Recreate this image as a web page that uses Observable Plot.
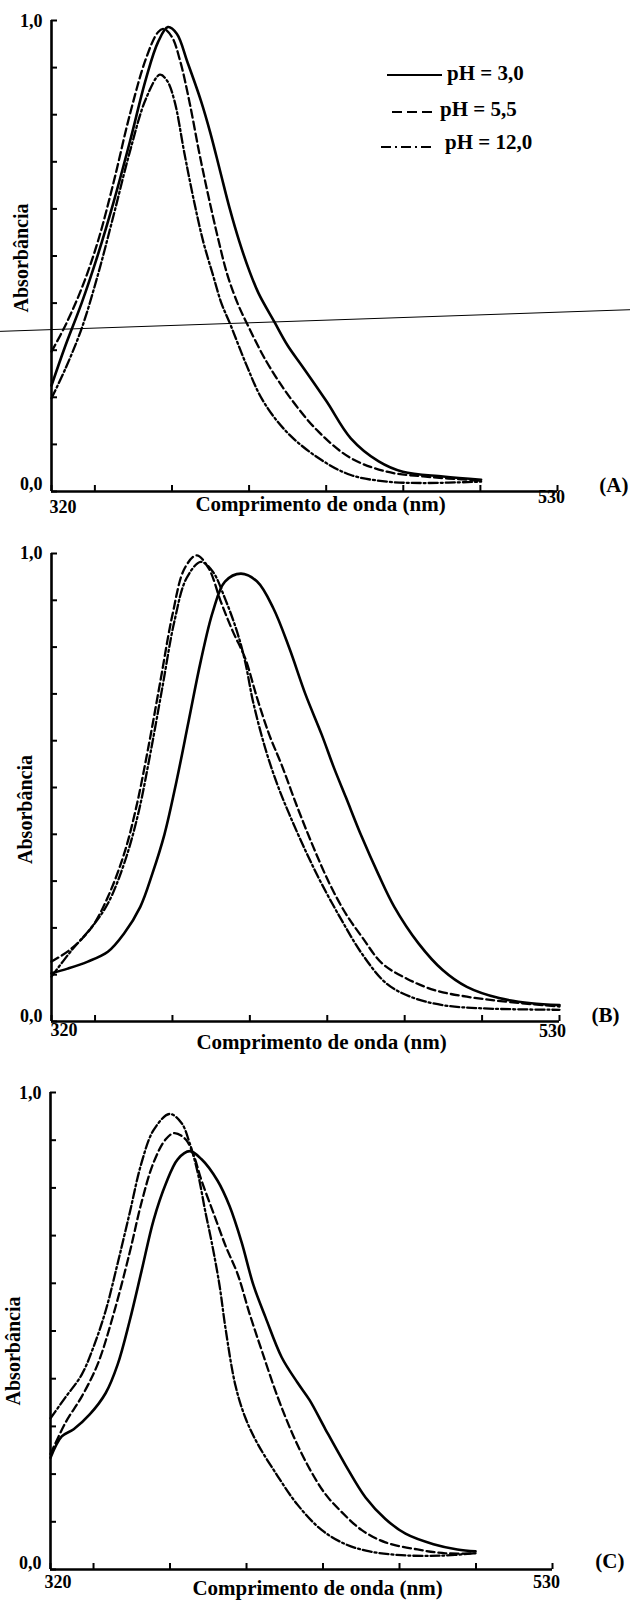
<!DOCTYPE html>
<html>
<head>
<meta charset="utf-8">
<script src="https://cdn.jsdelivr.net/npm/d3@7"></script>
<script src="https://cdn.jsdelivr.net/npm/@observablehq/plot@0.6"></script>
<style>
html, body { margin: 0; padding: 0; background: #fff; }
#page { position: relative; width: 630px; height: 1602px; overflow: hidden; background: #fff;
        font-family: "Liberation Serif", "Times New Roman", serif; }
.panel { position: absolute; left: 0; }
.panel svg { overflow: visible; }
#legend { position: absolute; left: 0; top: 0; pointer-events: none; }
</style>
</head>
<body>
<div id="page"></div>
<script>
// ---------- data ----------
const xDomain = [320, 530];
const xTickValues = [320, 338, 370, 402, 434, 466, 498, 530];
const xTickLabels = ["320", "530"];
const yTickValues = [0, 0.1, 0.2, 0.3, 0.4, 0.5, 0.6, 0.7, 0.8, 0.9, 1.0];
const yTickLabels = ["0,0", "1,0"];
const seriesNames = ["pH = 3,0", "pH = 5,5", "pH = 12,0"];
const panelTags = ["(A)", "(B)", "(C)"];
const xTitle = "Comprimento de onda (nm)";
const yTitle = "Absorbância";

// Panel A  [wavelength nm, absorbance]
const A_pH3 = [[320,0.225],[325.8,0.31],[332.5,0.40],[339.2,0.502],[345.8,0.615],[352.5,0.742],[359.2,0.876],[364.2,0.954],[368.3,0.986],[372,0.972],[376.4,0.912],[382,0.83],[386,0.76],[390,0.68],[394,0.60],[398,0.53],[402,0.47],[406,0.42],[412.5,0.36],[418,0.31],[424.2,0.265],[434.2,0.191],[444.2,0.113],[455.8,0.064],[465.8,0.042],[482.5,0.032],[498.3,0.025]];
const A_pH55 = [[320,0.297],[325.8,0.353],[332.5,0.431],[339.2,0.53],[345.8,0.657],[352.5,0.80],[359.2,0.919],[364.2,0.975],[366.7,0.982],[370,0.965],[373.5,0.912],[377.3,0.826],[381.4,0.717],[385,0.63],[389,0.54],[393,0.46],[397.2,0.40],[400.8,0.36],[409.2,0.276],[419.2,0.198],[430.8,0.127],[444.2,0.071],[459.2,0.042],[474.2,0.032],[498.3,0.023]];
const A_pH12 = [[320,0.198],[325.8,0.261],[332.5,0.346],[339.2,0.459],[345.8,0.587],[352.5,0.721],[359.2,0.834],[365,0.885],[368,0.872],[371,0.83],[375.2,0.717],[379,0.62],[383,0.53],[387,0.46],[390.5,0.40],[394.2,0.355],[400.8,0.27],[407.5,0.195],[417.5,0.127],[430.8,0.071],[444.2,0.035],[459.2,0.021],[474.2,0.018],[498.3,0.021]];
const A_scanLine = [[298.8,0.340],[560.3,0.386]];

// Panel B
const B_pH3 = [[320,0.103],[326.7,0.113],[335,0.128],[343.3,0.149],[350,0.188],[356.7,0.245],[361.7,0.316],[366.7,0.40],[371.7,0.514],[376.7,0.642],[381.7,0.77],[386.7,0.876],[391.7,0.94],[398.3,0.957],[405,0.94],[411.7,0.883],[418.3,0.798],[425,0.699],[431.7,0.613],[436.7,0.543],[441.7,0.479],[448.3,0.394],[455,0.316],[461.7,0.245],[471.7,0.167],[481.7,0.11],[491.7,0.074],[505,0.05],[518.3,0.039],[530,0.035]];
const B_pH55 = [[320,0.128],[328.3,0.156],[336.7,0.202],[343.3,0.266],[350,0.358],[355,0.457],[360,0.585],[365,0.727],[370,0.869],[375,0.968],[380,0.996],[385,0.968],[390,0.897],[395,0.833],[400,0.777],[405,0.691],[410,0.613],[415,0.55],[421.7,0.457],[428.3,0.372],[435,0.294],[441.7,0.23],[448.3,0.181],[456.7,0.124],[466.7,0.092],[478.3,0.067],[491.7,0.053],[506.7,0.043],[530,0.032]];
const B_pH12 = [[320,0.096],[328.3,0.152],[336.7,0.202],[343.3,0.252],[350,0.337],[355.8,0.443],[360.8,0.571],[365.8,0.713],[370.8,0.855],[375.8,0.947],[381.7,0.982],[386.7,0.961],[391.7,0.904],[396.7,0.833],[400,0.77],[403.3,0.684],[408.3,0.585],[413.3,0.507],[418.3,0.443],[425,0.365],[431.7,0.294],[440,0.216],[448.3,0.145],[458.3,0.082],[468.3,0.053],[481.7,0.035],[498.3,0.028],[530,0.025]];

// Panel C
const C_pH3 = [[320,0.234],[324.7,0.279],[329.7,0.294],[336.4,0.325],[343.1,0.37],[348.1,0.43],[353.1,0.521],[358.1,0.626],[363.1,0.732],[368.2,0.808],[373.2,0.86],[378.2,0.877],[383.2,0.86],[389.9,0.815],[394.9,0.762],[399.9,0.687],[404.9,0.596],[410,0.528],[416.7,0.445],[423.3,0.392],[428.4,0.355],[435,0.294],[443.4,0.219],[451.8,0.151],[460.1,0.106],[468.5,0.075],[480.2,0.053],[490.2,0.042],[497.8,0.038]];
const C_pH55 = [[320,0.242],[326.4,0.309],[333,0.362],[339.7,0.43],[346.4,0.536],[353.1,0.664],[358.1,0.77],[363.1,0.853],[368.2,0.902],[371.8,0.915],[376.5,0.902],[379.9,0.868],[383.2,0.815],[388.2,0.747],[393.2,0.679],[398.3,0.619],[403.3,0.536],[408.3,0.46],[415,0.362],[421.7,0.279],[428.4,0.211],[435,0.158],[441.7,0.121],[450.1,0.083],[460.1,0.057],[473.5,0.042],[485.2,0.034],[497.8,0.034]];
const C_pH12 = [[320,0.317],[326.4,0.362],[333,0.408],[338.1,0.468],[343.1,0.543],[348.1,0.642],[353.1,0.747],[358.1,0.853],[363.1,0.921],[369.8,0.955],[374.8,0.936],[378.2,0.894],[381.5,0.834],[384.9,0.747],[387.4,0.687],[390.7,0.596],[393.2,0.506],[397.4,0.385],[401.6,0.317],[406.6,0.264],[415,0.196],[423.3,0.136],[433.4,0.083],[443.4,0.053],[453.5,0.038],[466.8,0.030],[483.5,0.029],[497.8,0.034]];

// ---------- styles / layout ----------
const FONT = "Liberation Serif, Times New Roman, serif";
const dashes = [null, "8,4", "9,3,2,3"];
const legendDashes = [null, "10,5", "10,4,2,4"];
const TICK = 6;
const panels = [
  {series: [A_pH3, A_pH55, A_pH12], extra: A_scanLine, top: 0, height: 530, mt: 20, mb: 39, ml: 51, mr: 73,
   l320dx: -2, l320dy: 21, l530dx: -6, l530dy: 11, titleDy: 19, tagDx: 71, tagDy: 0, yDx: -30, yDy: 2, y1dy: 1, y0dy: -7},
  {series: [B_pH3, B_pH55, B_pH12], extra: null, top: 530, height: 530, mt: 23, mb: 39, ml: 51, mr: 71,
   l320dx: -1, l320dy: 14, l530dx: -7, l530dy: 15, titleDy: 27, tagDx: 60, tagDy: 0, yDx: -26, yDy: 22, y1dy: 0, y0dy: -5},
  {series: [C_pH3, C_pH55, C_pH12], extra: null, top: 1060, height: 542, mt: 32, mb: 33, ml: 50, mr: 78,
   l320dx: -6, l320dy: 18, l530dx: -6, l530dy: 18, titleDy: 25, tagDx: 72, tagDy: -2, yDx: -37, yDy: 20, y1dy: 1, y0dy: -6}
];

const page = document.getElementById("page");

panels.forEach((p, i) => {
  const bold = {fontFamily: FONT, fontWeight: "bold", fill: "black"};
  const frameW = 630 - p.ml - p.mr;
  const frameH = p.height - p.mt - p.mb;
  const marks = [
    // inward ticks
    Plot.tickY(yTickValues, {y: d => d, insetRight: frameW - TICK, stroke: "black", strokeWidth: 2}),
    Plot.tickX(xTickValues, {x: d => d, insetTop: frameH - TICK, stroke: "black", strokeWidth: 2}),
    // axis lines
    Plot.ruleX([xDomain[0]], {strokeWidth: 2.6}),
    Plot.ruleY([0], {strokeWidth: 2.6})
  ];
  p.series.forEach((s, k) => {
    marks.push(Plot.line(s, {x: d => d[0], y: d => d[1], curve: "catmull-rom",
      stroke: "black", strokeWidth: k === 0 ? 2.6 : 2.3, strokeDasharray: dashes[k]}));
  });
  if (p.extra) {
    marks.push(Plot.line(p.extra, {x: d => d[0], y: d => d[1], stroke: "black", strokeWidth: 1, clip: false}));
  }
  marks.push(
    Plot.text([yTickValues[yTickValues.length - 1]], {y: d => d, frameAnchor: "left", text: () => yTickLabels[1],
      textAnchor: "end", dx: -9, dy: p.y1dy, fontSize: 18, ...bold}),
    Plot.text([yTickValues[0]], {y: d => d, frameAnchor: "left", text: () => yTickLabels[0],
      textAnchor: "end", dx: -9, dy: p.y0dy, fontSize: 18, ...bold}),
    Plot.text([xDomain[0]], {x: d => d, frameAnchor: "bottom", text: () => xTickLabels[0],
      textAnchor: "start", dx: p.l320dx, dy: p.l320dy, fontSize: 18, ...bold}),
    Plot.text([xDomain[1]], {x: d => d, frameAnchor: "bottom", text: () => xTickLabels[1],
      textAnchor: "middle", dx: p.l530dx, dy: p.l530dy, fontSize: 18, ...bold}),
    Plot.text([xTitle], {frameAnchor: "bottom", textAnchor: "middle", dx: 16, dy: p.titleDy, fontSize: 21, ...bold}),
    Plot.text([yTitle], {frameAnchor: "left", textAnchor: "middle", lineAnchor: "middle", rotate: -90,
      dx: p.yDx, dy: p.yDy, fontSize: 20, ...bold}),
    Plot.text([panelTags[i]], {frameAnchor: "bottom-right", textAnchor: "end", dx: p.tagDx, dy: p.tagDy, fontSize: 21, ...bold})
  );
  const chart = Plot.plot({
    width: 630, height: p.height,
    marginTop: p.mt, marginBottom: p.mb, marginLeft: p.ml, marginRight: p.mr,
    x: {domain: xDomain, axis: null},
    y: {domain: [0, 1], axis: null},
    style: {background: "white", fontFamily: FONT, color: "black", overflow: "visible"},
    marks
  });
  const div = document.createElement("div");
  div.className = "panel";
  div.style.top = p.top + "px";
  div.appendChild(chart);
  page.appendChild(div);
});

// ---------- legend (panel A, top right) ----------
const legendRows = [
  {x1: 387, x2: 442, ly: 75, tx: 447, ty: 80},
  {x1: 392, x2: 432, ly: 112, tx: 440, ty: 116},
  {x1: 381, x2: 431, ly: 147, tx: 445, ty: 149}
];
const leg = d3.select(page).append("svg").attr("id", "legend").attr("width", 630).attr("height", 170);
seriesNames.forEach((name, k) => {
  const r = legendRows[k];
  leg.append("line").attr("x1", r.x1).attr("x2", r.x2).attr("y1", r.ly).attr("y2", r.ly)
    .attr("stroke", "black").attr("stroke-width", 2).attr("stroke-dasharray", legendDashes[k]);
  leg.append("text").attr("x", r.tx).attr("y", r.ty).text(name)
    .attr("font-family", FONT).attr("font-weight", "bold").attr("font-size", 21).attr("fill", "black");
});
</script>
</body>
</html>
